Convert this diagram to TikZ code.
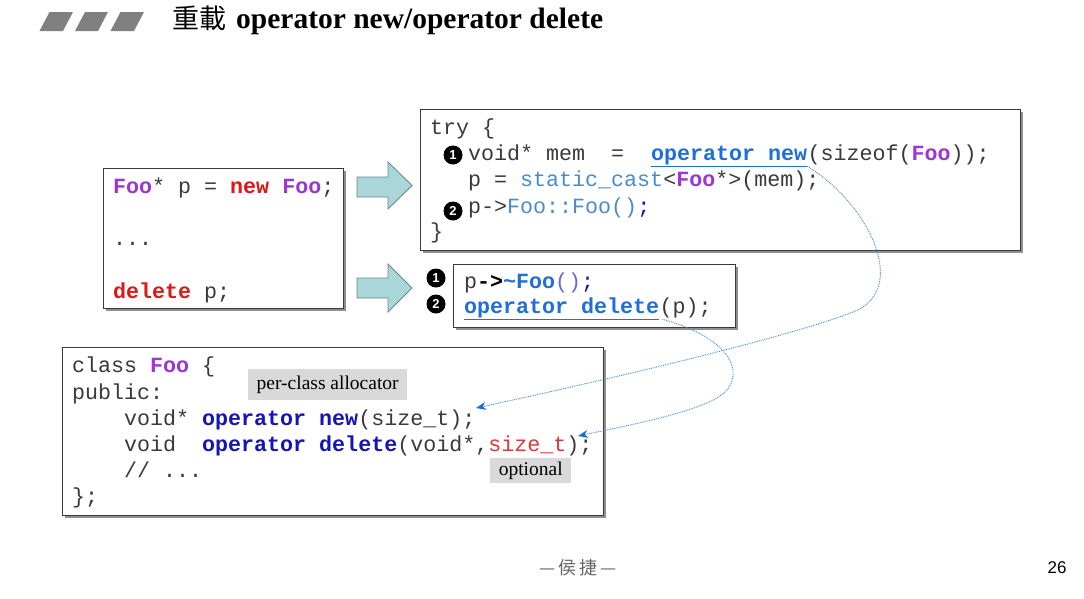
\documentclass[tikz,border=0pt]{standalone}
\usepackage{fontspec}
\setmainfont{Liberation Serif}
\setsansfont{Liberation Sans}
\setmonofont{Liberation Mono}
\newfontfamily\cjkfont{Noto Sans CJK TC}
\usetikzlibrary{arrows.meta,shadows}

\definecolor{codegray}{HTML}{3A3A3A}
\definecolor{foopurple}{HTML}{9B35D6}
\definecolor{kwred}{HTML}{E01515}
\definecolor{opblue}{HTML}{1F6FD8}
\definecolor{ltblue}{HTML}{4A8CCB}
\definecolor{ltpurple}{HTML}{6A6AC8}
\definecolor{dkblue}{HTML}{1414B8}
\definecolor{sizered}{HTML}{D43C3C}
\definecolor{boxborder}{HTML}{3A3A3A}
\definecolor{tealfill}{HTML}{A8D6D9}
\definecolor{tealline}{HTML}{6A8A8C}
\definecolor{tagfill}{HTML}{D9D9D9}
\definecolor{linkblue}{HTML}{4A90D4}
\definecolor{tipblue}{HTML}{1A6BE0}
\definecolor{titlegray}{HTML}{808080}

\newcommand\codefont{\fontsize{21.67pt}{26pt}\selectfont\ttfamily}
\newcommand\kw[2]{\textcolor{#1}{\textbf{#2}}}

\tikzset{
  codebox/.style={draw=boxborder, line width=1.3pt, fill=white, inner sep=0pt,
    anchor=north west,
    drop shadow={shadow xshift=2.5pt, shadow yshift=-2.5pt, fill=black!55, opacity=0.8}},
  code/.style={inner sep=0pt, anchor=base west, font=\codefont, text=codegray, text depth=5pt},
  bullet/.style={circle, fill=black, text=white, inner sep=0pt, minimum size=19pt,
    font=\sffamily\bfseries\fontsize{13pt}{13pt}\selectfont},
  tagbox/.style={fill=tagfill, inner sep=0pt, anchor=north west,
    font=\fontsize{19.5pt}{20pt}\selectfont, text=black},
  blockarrow/.style={fill=tealfill, draw=tealline, line width=0.9pt, line join=miter},
  uline/.style={draw=opblue, line width=1.1pt},
  link/.style={draw=linkblue, line width=0.9pt, dash pattern=on 0.9pt off 0.9pt,
    -{Stealth[length=10pt, width=8pt, inset=3pt, color=tipblue, line width=0pt]}},
  tilt/.style={fill=titlegray},
}

\begin{document}
\begin{tikzpicture}[x=1pt, y=-1pt]
\useasboundingbox (0,0) rectangle (1084,598);
\fill[white] (0,0) rectangle (1084,598);

% title
\fill[tilt] (39.5,31) -- (63,31) -- (73,12) -- (49.5,12) -- cycle;
\fill[tilt] (75,31) -- (98,31) -- (108,12) -- (85,12) -- cycle;
\fill[tilt] (110.5,31) -- (134,31) -- (144,12) -- (120.5,12) -- cycle;
\node[anchor=base west, inner sep=0pt] (title) at (172,28.5)
  {{\cjkfont\fontsize{27pt}{27pt}\selectfont 重載}\hspace{10pt}{\fontsize{29.5pt}{29.5pt}\selectfont\bfseries operator new/operator delete}};

% box A
\node[codebox, minimum width=240pt, minimum height=140pt] (boxA) at (103,168) {};
\node[code] (a1) at (113,193) {\kw{foopurple}{Foo}*~p~=~\kw{kwred}{new}~\kw{foopurple}{Foo};};
\node[code] (a2) at (113,245) {...};
\node[code] (a3) at (113,298) {\kw{kwred}{delete}~p;};

% block arrows
\draw[blockarrow] (357,177) -- (388,177) -- (388,162) -- (412,185.5) -- (388,209) -- (388,197) -- (357,197) -- cycle;
\draw[blockarrow] (357,278) -- (388,278) -- (388,264) -- (412,288) -- (388,312) -- (388,298) -- (357,298) -- cycle;

% box B
\node[codebox, minimum width=600pt, minimum height=141pt] (boxB) at (420,109) {};
\node[code] (b1) at (430,134) {try~\{};
\node[code] (b2a) at (468,160) {void*~mem~~=};
\node[code] (opnew) at (651,160) {\kw{opblue}{operator~new}};
\node[code] (b2c) at (opnew.base east) {(sizeof(\kw{foopurple}{Foo}));};
\node[code] (b3) at (468,186) {p~=~\textcolor{ltblue}{static\_cast}<\kw{foopurple}{Foo}*>(mem);};
\node[code] (b4) at (468,213) {p->\textcolor{ltblue}{Foo::Foo()}\textcolor{dkblue}{;}};
\node[code] (b5) at (430,238) {\}};
\node[bullet] (n1) at (453,155) {1};
\node[bullet] (n2) at (453,211) {2};
\draw[uline] ([yshift=-1pt]opnew.south west) -- ([yshift=-1pt]opnew.south east);

% box C
\node[codebox, minimum width=282pt, minimum height=63pt] (boxC) at (453,264) {};
\node[code] (c1) at (464,288) {p\textcolor{black}{\textbf{->}}\kw{opblue}{\textasciitilde Foo}\textcolor{ltpurple}{()}\textcolor{dkblue}{;}};
\node[code] (opdel) at (464,313) {\kw{opblue}{operator~delete}};
\node[code] (c2b) at (opdel.base east) {(p);};
\node[bullet] (n3) at (436,278) {1};
\node[bullet] (n4) at (436,304) {2};
\draw[uline] ([yshift=-1pt]opdel.south west) -- ([yshift=-1pt]opdel.south east);

% box D
\node[codebox, minimum width=541pt, minimum height=168pt] (boxD) at (62,347) {};
\node[code] (d1) at (72,372) {class~\kw{foopurple}{Foo}~\{};
\node[code] (d2) at (72,399) {public:};
\node[code] (d3) at (124,425) {void*~\kw{dkblue}{operator~new}(size\_t);};
\node[code] (d4) at (124,451) {void~~\kw{dkblue}{operator~delete}(void*,\textcolor{sizered}{size\_t});};
\node[code] (d5) at (124,477) {//~...};
\node[code] (d6) at (72,503) {\};};

% tags
\node[tagbox, minimum width=159pt, minimum height=31pt] (tag1) at (248,369) {per-class allocator};
\node[tagbox, minimum width=81pt, minimum height=25pt] (tag2) at (490,458) {optional};

% links
\coordinate (t1) at (476,408);
\coordinate (t2) at (578,436);
\draw[link] ([yshift=-1pt]opnew.south east) .. controls (870,205) and (910,290) .. (853,312)
   .. controls (775,342) and (560,390) .. (t1);
\draw[link] ([xshift=3pt,yshift=-1pt]opdel.south east) .. controls (730,338) and (745,372) .. (725,392)
   .. controls (705,411) and (630,425) .. (t2);

% footer
\node[inner sep=0pt, text=black!60] (foot) at (578,568) {\cjkfont\fontsize{18pt}{18pt}\selectfont —\hspace{3pt}侯\hspace{3pt}捷\hspace{3pt}—};
\node[inner sep=0pt, font=\sffamily\fontsize{17pt}{17pt}\selectfont] (pg) at (1057,568) {26};
\end{tikzpicture}
\end{document}
